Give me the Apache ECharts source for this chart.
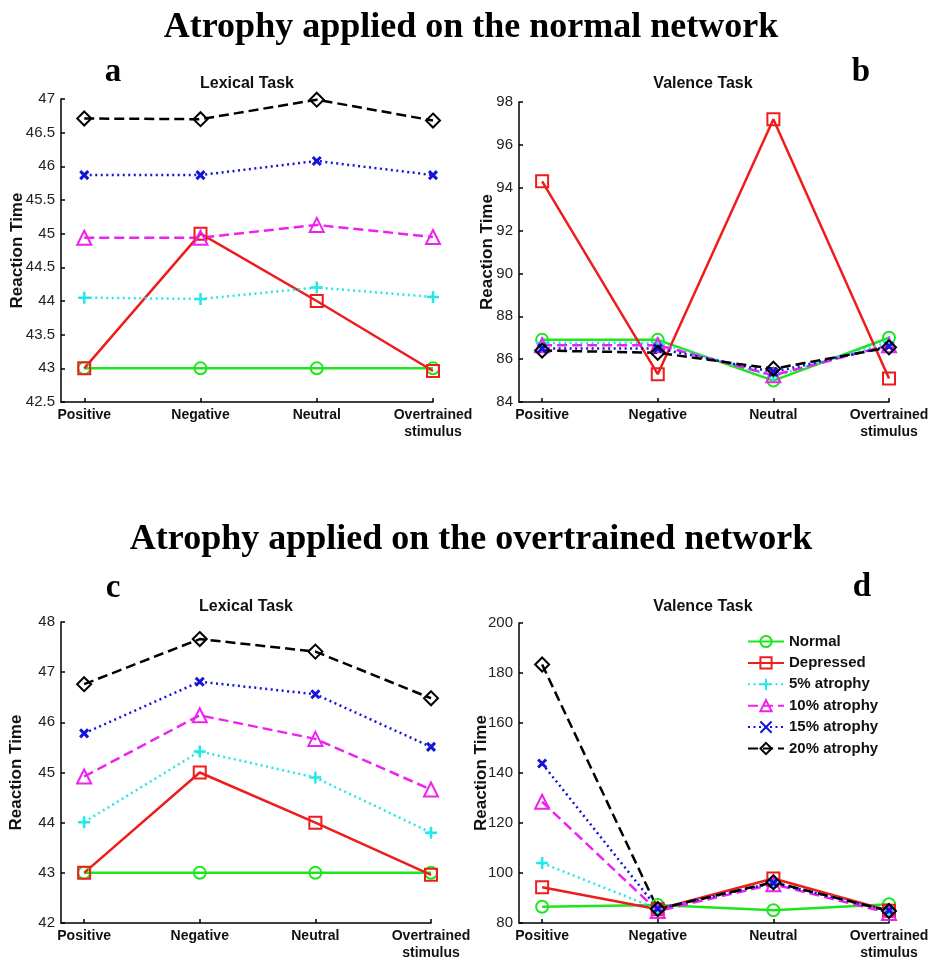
<!DOCTYPE html>
<html>
<head>
<meta charset="utf-8">
<script src="https://cdn.jsdelivr.net/npm/echarts@6/dist/echarts.min.js"></script>
<style>
html,body{margin:0;padding:0;background:#fff;}
#chart{width:934px;height:962px;}
</style>
</head>
<body>
<div id="chart"></div>
<script>
// ---- data ----
const categories = ['Positive', 'Negative', 'Neutral', 'Overtrained\nstimulus'];
const seriesNames = ['Normal', 'Depressed', '5% atrophy', '10% atrophy', '15% atrophy', '20% atrophy'];

// a: Lexical task, atrophy on normal network
const normalA    = [43, 43, 43, 43];
const depressedA = [43, 45, 44, 42.96];
const atr5A      = [44.05, 44.03, 44.2, 44.06];
const atr10A     = [44.94, 44.94, 45.13, 44.95];
const atr15A     = [45.87, 45.87, 46.08, 45.87];
const atr20A     = [46.71, 46.7, 46.99, 46.68];

// b: Valence task, atrophy on normal network
const normalB    = [86.9, 86.9, 85.0, 87.0];
const depressedB = [94.3, 85.3, 97.2, 85.1];
const atr5B      = [86.75, 86.75, 85.2, 86.8];
const atr10B     = [86.65, 86.65, 85.25, 86.65];
const atr15B     = [86.5, 86.5, 85.4, 86.6];
const atr20B     = [86.4, 86.3, 85.55, 86.55];

// c: Lexical task, atrophy on overtrained network
const normalC    = [43, 43, 43, 43];
const depressedC = [43, 45, 44, 42.96];
const atr5C      = [44.01, 45.42, 44.9, 43.8];
const atr10C     = [44.92, 46.14, 45.67, 44.66];
const atr15C     = [45.78, 46.81, 46.56, 45.51];
const atr20C     = [46.76, 47.66, 47.41, 46.48];

// d: Valence task, atrophy on overtrained network
const normalD    = [86.5, 87.2, 85.1, 87.5];
const depressedD = [94.3, 85.5, 97.8, 84.9];
const atr5D      = [104, 85.6, 96.3, 85.0];
const atr10D     = [128.5, 84.8, 95.5, 84.0];
const atr15D     = [143.8, 85.7, 96.0, 85.0];
const atr20D     = [183.4, 85.6, 96.3, 84.8];

// axis ticks
const yAxisA = {min: 42.5, max: 47, interval: 0.5};
const yAxisB = {min: 84, max: 98, interval: 2};
const yAxisC = {min: 42, max: 48, interval: 1};
const yAxisD = {min: 80, max: 200, interval: 20};
const xTickValues = [1, 2, 3, 4];

const panelTitles = ['Lexical Task', 'Valence Task', 'Lexical Task', 'Valence Task'];
const panelLetters = ['a', 'b', 'c', 'd'];
const mainTitles = ['Atrophy applied on the normal network', 'Atrophy applied on the overtrained network'];

// ---- styling ----
const panelData = [
  [normalA, depressedA, atr5A, atr10A, atr15A, atr20A],
  [normalB, depressedB, atr5B, atr10B, atr15B, atr20B],
  [normalC, depressedC, atr5C, atr10C, atr15C, atr20C],
  [normalD, depressedD, atr5D, atr10D, atr15D, atr20D]
];
const yAxes = [yAxisA, yAxisB, yAxisC, yAxisD];
const nameGaps = [35, 23, 36, 29];

const styles = [
  {color: '#1ee61e', type: 'solid', symbol: 'circle', size: 12, bw: 2},
  {color: '#ee1c1c', type: 'solid', symbol: 'rect', size: 12, bw: 2},
  {color: '#22e8e8', type: [2, 3.5], symbol: 'path://M5,0 L5,10 M0,5 L10,5', size: 12, bw: 2.5},
  {color: '#ee22ee', type: [10, 5], symbol: 'triangle', size: 14, bw: 2},
  {color: '#1414d8', type: [2, 3.5], symbol: 'path://M0,0 L10,10 M0,10 L10,0', size: 8, bw: 3},
  {color: '#000000', type: [10, 5], symbol: 'diamond', size: 14, bw: 2}
];

const grids = [
  {left: 61, top: 99, width: 372, height: 303},
  {left: 519, top: 102, width: 370, height: 300},
  {left: 61, top: 622, width: 370, height: 302},
  {left: 519, top: 623, width: 370, height: 301}
];

const sans = 'Liberation Sans, Arial, sans-serif';
const serif = 'Liberation Serif, Times New Roman, serif';

const xAxis = grids.map((g, i) => ({
  type: 'value', gridIndex: i, min: 0.8, max: 4,
  axisLine: {show: true, lineStyle: {color: '#000', width: 1.5}},
  axisTick: {show: true, inside: true, length: 4, customValues: xTickValues, lineStyle: {color: '#000', width: 1.5}},
  axisLabel: {
    show: true, customValues: xTickValues, margin: 5,
    formatter: v => categories[Math.round(v) - 1],
    color: '#111', fontFamily: sans, fontWeight: 'bold', fontSize: 14, lineHeight: 17
  },
  splitLine: {show: false}
}));

const yAxis = grids.map((g, i) => ({
  type: 'value', gridIndex: i,
  min: yAxes[i].min, max: yAxes[i].max, interval: yAxes[i].interval,
  name: 'Reaction Time', nameLocation: 'middle', nameGap: nameGaps[i], nameRotate: 90,
  nameMoveOverlap: false,
  nameTextStyle: {color: '#111', fontFamily: sans, fontWeight: 'bold', fontSize: 17},
  axisLine: {show: true, lineStyle: {color: '#000', width: 1.5}},
  axisTick: {show: true, inside: true, length: 4, lineStyle: {color: '#000', width: 1.5}},
  axisLabel: {color: '#222', fontFamily: sans, fontSize: 15, margin: 6},
  splitLine: {show: false}
}));

const series = [];
panelData.forEach((panel, p) => {
  panel.forEach((vals, s) => {
    const st = styles[s];
    series.push({
      type: 'line', name: seriesNames[s],
      xAxisIndex: p, yAxisIndex: p,
      data: vals.map((v, k) => [xTickValues[k], v]),
      clip: false,
      symbol: st.symbol, symbolSize: st.size, showAllSymbol: true,
      lineStyle: {color: st.color, width: 2.5, type: st.type},
      itemStyle: {color: 'rgba(0,0,0,0)', borderColor: st.color, borderWidth: st.bw},
      emphasis: {disabled: true},
      animation: false
    });
  });
});

const graphic = [];
mainTitles.forEach((t, i) => {
  graphic.push({type: 'text', x: 471, y: i === 0 ? 28 : 540,
    style: {text: t, font: 'bold 36px ' + serif, fill: '#000', align: 'center', verticalAlign: 'middle'}});
});
const letterPos = [[113, 72], [861, 72], [113, 588], [862, 587]];
const subPos = [[247, 84], [703, 84], [246, 607], [703, 607]];
for (let i = 0; i < 4; i++) {
  graphic.push({type: 'text', x: letterPos[i][0], y: letterPos[i][1],
    style: {text: panelLetters[i], font: 'bold 33px ' + serif, fill: '#000', align: 'center', verticalAlign: 'middle'}});
  graphic.push({type: 'text', x: subPos[i][0], y: subPos[i][1],
    style: {text: panelTitles[i], font: 'bold 16px ' + sans, fill: '#111', align: 'center', verticalAlign: 'middle'}});
}

const chart = echarts.init(document.getElementById('chart'), null, {renderer: 'canvas'});
chart.setOption({
  animation: false,
  backgroundColor: '#fff',
  grid: grids,
  xAxis: xAxis,
  yAxis: yAxis,
  legend: {
    data: seriesNames, orient: 'vertical', left: 742, top: 629,
    itemWidth: 36, itemHeight: 14, itemGap: 6.4,
    textStyle: {color: '#111', fontFamily: sans, fontWeight: 'bold', fontSize: 15},
    selectedMode: false
  },
  graphic: graphic,
  series: series
});
</script>
</body>
</html>
